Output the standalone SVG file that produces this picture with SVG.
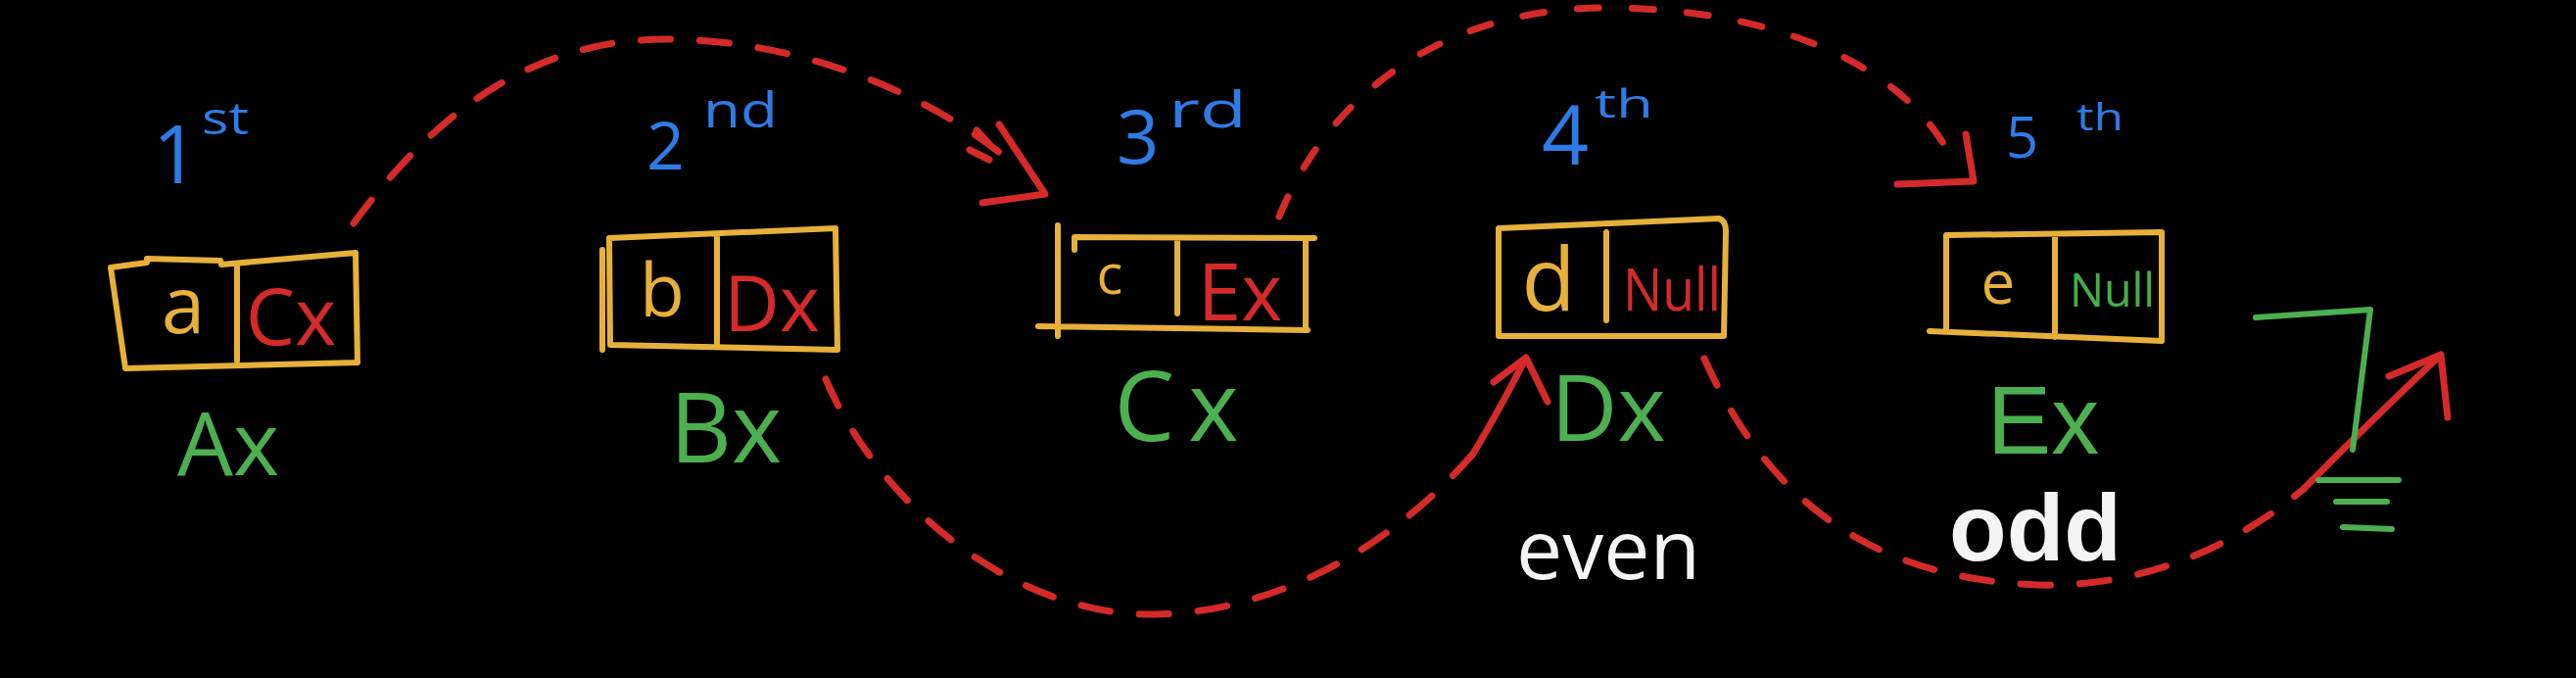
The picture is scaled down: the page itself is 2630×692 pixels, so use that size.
<svg xmlns="http://www.w3.org/2000/svg" width="2630" height="692" viewBox="0 0 2630 692">
<style>
.bg{fill:#000}
.box{fill:none;stroke:#e6b03a;stroke-width:6;stroke-linecap:round;stroke-linejoin:round}
.t{font-family:"Open Sans","Liberation Sans",sans-serif}
.ls{font-family:"Liberation Sans","Open Sans",sans-serif}
.val{fill:#e6b03a}
.ptr{fill:#d42a2a}
.nul{fill:#46ad4a}
.lbl{fill:#4caf50}
.ord{fill:#2f7be6}
.wht{fill:#f4f4f4}
.dash{fill:none;stroke:#d42a2a;stroke-width:7;stroke-linecap:round;stroke-dasharray:30 30}
.solid{fill:none;stroke:#d42a2a;stroke-width:7;stroke-linecap:round;stroke-linejoin:round}
.gnd{fill:none;stroke:#4caf50;stroke-width:6;stroke-linecap:round;stroke-linejoin:round}
</style>
<rect class="bg" x="0" y="0" width="2630" height="692"/>

<g id="connectors">
  <path class="dash" d="M361,228 C440,120 540,40 680,40 C820,40 960,100 1040,172"/>
  <path class="solid" d="M1003,207 L1067,198 L1020,127 M997,133 L1010,147 M990,153 L1010,163"/>
  <path class="dash" d="M843,387 C900,520 1040,630 1180,627 C1300,625 1420,560 1504,463"/>
  <path class="solid" d="M1504,463 Q1530,420 1558,365 M1525,390 L1558,365 L1580,410"/>
  <path class="dash" style="stroke-dasharray:22 34" d="M1306,221 C1360,90 1480,8 1640,8 C1800,8 1940,60 1992,160"/>
  <path class="solid" d="M1937,188 L2015,185 L2007,137"/>
  <path class="dash" d="M1740,366 C1800,500 1900,590 2080,597 C2200,600 2290,550 2352,499"/>
  <path class="solid" d="M2352,499 Q2420,430 2492,362 M2439,384 L2492,362 L2499,426"/>
</g>

<g id="node-A">
  <path class="box" d="M113,273 L150,268 L150,264 L225,266 L226,270 L363,258 L365,370 L128,376 Z M242,272 L242,368"/>
  <text class="t val" x="187" y="340" font-size="80" text-anchor="middle">a</text>
  <text class="t ptr" x="297" y="352" font-size="80" text-anchor="middle">Cx</text>
  <text class="t lbl" x="233" y="485" font-size="90" text-anchor="middle">Ax</text>
  <text class="t ord" x="156" y="187" font-size="82">1</text>
  <text class="t ord" x="206" y="137" font-size="46" textLength="48" lengthAdjust="spacingAndGlyphs">st</text>
</g>

<g id="node-B">
  <path class="box" d="M622,243 L853,233 L855,357 L623,352 Z M615,255 L615,357 M732,242 L732,350"/>
  <text class="t val" x="676" y="323" font-size="75" text-anchor="middle">b</text>
  <text class="t ptr" x="788" y="338" font-size="78" text-anchor="middle">Dx</text>
  <text class="t lbl" x="741" y="472" font-size="98" text-anchor="middle">Bx</text>
  <text class="t ord" x="660" y="173" font-size="68">2</text>
  <text class="t ord" x="718" y="130" font-size="50" textLength="76" lengthAdjust="spacingAndGlyphs">nd</text>
</g>

<g id="node-C">
  <path class="box" d="M1097,255 L1097,242 L1342,243 M1333,243 L1333,335 M1060,333 L1335,337 M1080,230 L1080,343 M1202,243 L1202,320"/>
  <text class="t val" x="1133" y="300" font-size="56" text-anchor="middle">c</text>
  <text class="t ptr" x="1266" y="327" font-size="80" text-anchor="middle">Ex</text>
  <text class="t lbl" x="1208" y="450" font-size="98" text-anchor="middle" letter-spacing="14">Cx</text>
  <text class="t ord" x="1140" y="167" font-size="76">3</text>
  <text class="t ord" x="1193" y="130" font-size="52" textLength="80" lengthAdjust="spacingAndGlyphs">rd</text>
</g>

<g id="node-D">
  <path class="box" d="M1530,233 L1755,223 Q1762,225 1762,236 L1760,343 L1530,343 Z M1640,237 L1640,327"/>
  <text class="t val" x="1581" y="317" font-size="90" text-anchor="middle">d</text>
  <text class="t ptr" x="1657" y="317" font-size="60" textLength="100" lengthAdjust="spacingAndGlyphs">Null</text>
  <text class="t lbl" x="1642" y="450" font-size="94" text-anchor="middle">Dx</text>
  <text class="t ord" x="1574" y="168" font-size="84">4</text>
  <text class="t ord" x="1628" y="120" font-size="40" textLength="60" lengthAdjust="spacingAndGlyphs">th</text>
  <text class="t wht" x="1642" y="591" font-size="84" text-anchor="middle">even</text>
</g>

<g id="node-E">
  <path class="box" d="M1987,240 L2207,237 L2207,348 L1970,338 M1987,240 L1987,336 M2098,240 L2098,344"/>
  <text class="t val" x="2040" y="310" font-size="62" text-anchor="middle">e</text>
  <text class="t nul" x="2113" y="313" font-size="48" textLength="87" lengthAdjust="spacingAndGlyphs">Null</text>
  <text class="ls lbl" x="2086" y="463" font-size="98" text-anchor="middle">Ex</text>
  <text class="t ord" x="2048" y="161" font-size="58">5</text>
  <text class="t ord" x="2120" y="133" font-size="38" textLength="48" lengthAdjust="spacingAndGlyphs">th</text>
  <text class="ls wht" x="2078" y="572" font-size="96" text-anchor="middle" font-weight="bold">odd</text>
</g>

<g id="ground">
  <path class="gnd" d="M2303,324 L2420,316 L2402,459 M2367,490 L2449,490 M2385,512 L2437,512 M2392,538 L2442,540"/>
</g>
</svg>
